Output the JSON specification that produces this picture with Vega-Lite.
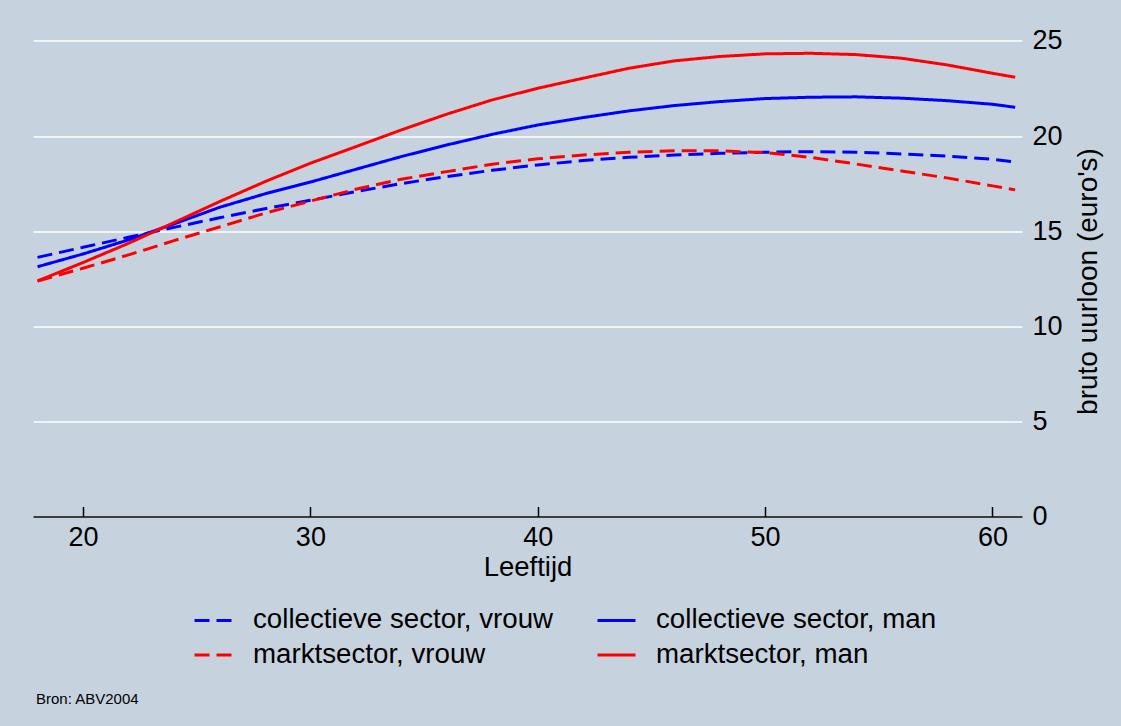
{
  "$schema": "https://vega.github.io/schema/vega-lite/v6.json",
  "width": 989,
  "height": 487,
  "autosize": {"type": "none"},
  "padding": {"left": 33, "top": 29.5, "right": 99, "bottom": 209.5},
  "background": "#c6d3df",
  "config": {
    "view": {"stroke": null},
    "font": "Liberation Sans",
    "legend": {
      "orient": "none",
      "direction": "horizontal",
      "legendX": 160,
      "legendY": 570,
      "columns": 2,
      "columnPadding": 37,
      "rowPadding": 0,
      "padding": 0,
      "labelFontSize": 27.7,
      "labelColor": "#000000",
      "labelOffset": 19,
      "labelLimit": 0,
      "symbolType": "stroke",
      "symbolSize": 1444,
      "symbolStrokeWidth": 3,
      "title": null
    }
  },
  "title": {
    "text": "Bron: ABV2004",
    "orient": "bottom",
    "anchor": "start",
    "frame": "group",
    "fontSize": 15,
    "fontWeight": "normal",
    "color": "#000000",
    "font": "Liberation Sans",
    "offset": 22,
    "dx": 3
  },
  "data": {
    "values": [
      {"s": "collectieve sector, vrouw", "age": 18, "v": 13.62},
      {"s": "collectieve sector, vrouw", "age": 20, "v": 14.15},
      {"s": "collectieve sector, vrouw", "age": 22, "v": 14.68},
      {"s": "collectieve sector, vrouw", "age": 24, "v": 15.2},
      {"s": "collectieve sector, vrouw", "age": 26, "v": 15.7},
      {"s": "collectieve sector, vrouw", "age": 28, "v": 16.18},
      {"s": "collectieve sector, vrouw", "age": 30, "v": 16.62},
      {"s": "collectieve sector, vrouw", "age": 32, "v": 17.08},
      {"s": "collectieve sector, vrouw", "age": 34, "v": 17.5},
      {"s": "collectieve sector, vrouw", "age": 36, "v": 17.87},
      {"s": "collectieve sector, vrouw", "age": 38, "v": 18.2},
      {"s": "collectieve sector, vrouw", "age": 40, "v": 18.48},
      {"s": "collectieve sector, vrouw", "age": 42, "v": 18.71},
      {"s": "collectieve sector, vrouw", "age": 44, "v": 18.88},
      {"s": "collectieve sector, vrouw", "age": 46, "v": 19.0},
      {"s": "collectieve sector, vrouw", "age": 48, "v": 19.09},
      {"s": "collectieve sector, vrouw", "age": 50, "v": 19.15},
      {"s": "collectieve sector, vrouw", "age": 52, "v": 19.18},
      {"s": "collectieve sector, vrouw", "age": 54, "v": 19.15},
      {"s": "collectieve sector, vrouw", "age": 56, "v": 19.06},
      {"s": "collectieve sector, vrouw", "age": 58, "v": 18.95},
      {"s": "collectieve sector, vrouw", "age": 60, "v": 18.78},
      {"s": "collectieve sector, vrouw", "age": 61, "v": 18.64},
      {"s": "collectieve sector, man", "age": 18, "v": 13.13},
      {"s": "collectieve sector, man", "age": 20, "v": 13.8},
      {"s": "collectieve sector, man", "age": 22, "v": 14.54},
      {"s": "collectieve sector, man", "age": 24, "v": 15.38},
      {"s": "collectieve sector, man", "age": 26, "v": 16.25},
      {"s": "collectieve sector, man", "age": 28, "v": 16.96},
      {"s": "collectieve sector, man", "age": 30, "v": 17.58},
      {"s": "collectieve sector, man", "age": 32, "v": 18.25},
      {"s": "collectieve sector, man", "age": 34, "v": 18.92},
      {"s": "collectieve sector, man", "age": 36, "v": 19.53},
      {"s": "collectieve sector, man", "age": 38, "v": 20.09},
      {"s": "collectieve sector, man", "age": 40, "v": 20.58},
      {"s": "collectieve sector, man", "age": 42, "v": 20.97},
      {"s": "collectieve sector, man", "age": 44, "v": 21.32},
      {"s": "collectieve sector, man", "age": 46, "v": 21.6},
      {"s": "collectieve sector, man", "age": 48, "v": 21.81},
      {"s": "collectieve sector, man", "age": 50, "v": 21.97},
      {"s": "collectieve sector, man", "age": 52, "v": 22.04},
      {"s": "collectieve sector, man", "age": 54, "v": 22.06},
      {"s": "collectieve sector, man", "age": 56, "v": 21.99},
      {"s": "collectieve sector, man", "age": 58, "v": 21.86},
      {"s": "collectieve sector, man", "age": 60, "v": 21.67},
      {"s": "collectieve sector, man", "age": 61, "v": 21.51},
      {"s": "marktsector, vrouw", "age": 18, "v": 12.38},
      {"s": "marktsector, vrouw", "age": 20, "v": 13.05},
      {"s": "marktsector, vrouw", "age": 22, "v": 13.75},
      {"s": "marktsector, vrouw", "age": 24, "v": 14.5},
      {"s": "marktsector, vrouw", "age": 26, "v": 15.22},
      {"s": "marktsector, vrouw", "age": 28, "v": 15.94},
      {"s": "marktsector, vrouw", "age": 30, "v": 16.58},
      {"s": "marktsector, vrouw", "age": 32, "v": 17.2},
      {"s": "marktsector, vrouw", "age": 34, "v": 17.73},
      {"s": "marktsector, vrouw", "age": 36, "v": 18.13},
      {"s": "marktsector, vrouw", "age": 38, "v": 18.52},
      {"s": "marktsector, vrouw", "age": 40, "v": 18.8},
      {"s": "marktsector, vrouw", "age": 42, "v": 19.0},
      {"s": "marktsector, vrouw", "age": 44, "v": 19.15},
      {"s": "marktsector, vrouw", "age": 46, "v": 19.22},
      {"s": "marktsector, vrouw", "age": 48, "v": 19.22},
      {"s": "marktsector, vrouw", "age": 50, "v": 19.13},
      {"s": "marktsector, vrouw", "age": 52, "v": 18.88},
      {"s": "marktsector, vrouw", "age": 54, "v": 18.53},
      {"s": "marktsector, vrouw", "age": 56, "v": 18.16},
      {"s": "marktsector, vrouw", "age": 58, "v": 17.8},
      {"s": "marktsector, vrouw", "age": 60, "v": 17.38},
      {"s": "marktsector, vrouw", "age": 61, "v": 17.17},
      {"s": "marktsector, man", "age": 18, "v": 12.38},
      {"s": "marktsector, man", "age": 20, "v": 13.35},
      {"s": "marktsector, man", "age": 22, "v": 14.36},
      {"s": "marktsector, man", "age": 24, "v": 15.45},
      {"s": "marktsector, man", "age": 26, "v": 16.55},
      {"s": "marktsector, man", "age": 28, "v": 17.6},
      {"s": "marktsector, man", "age": 30, "v": 18.57},
      {"s": "marktsector, man", "age": 32, "v": 19.44},
      {"s": "marktsector, man", "age": 34, "v": 20.32},
      {"s": "marktsector, man", "age": 36, "v": 21.15},
      {"s": "marktsector, man", "age": 38, "v": 21.9},
      {"s": "marktsector, man", "age": 40, "v": 22.51},
      {"s": "marktsector, man", "age": 42, "v": 23.04},
      {"s": "marktsector, man", "age": 44, "v": 23.56},
      {"s": "marktsector, man", "age": 46, "v": 23.95},
      {"s": "marktsector, man", "age": 48, "v": 24.18},
      {"s": "marktsector, man", "age": 50, "v": 24.32},
      {"s": "marktsector, man", "age": 52, "v": 24.35},
      {"s": "marktsector, man", "age": 54, "v": 24.28},
      {"s": "marktsector, man", "age": 56, "v": 24.09},
      {"s": "marktsector, man", "age": 58, "v": 23.74},
      {"s": "marktsector, man", "age": 60, "v": 23.3},
      {"s": "marktsector, man", "age": 61, "v": 23.09}
    ]
  },
  "mark": {"type": "line", "strokeWidth": 3},
  "encoding": {
    "x": {
      "field": "age",
      "type": "quantitative",
      "scale": {"domain": [17.8, 61.3], "nice": false, "zero": false},
      "axis": {
        "values": [20, 30, 40, 50, 60],
        "title": "Leeftijd",
        "grid": false,
        "domainColor": "#000000",
        "domainWidth": 1.5,
        "tickColor": "#000000",
        "tickWidth": 1.5,
        "tickSize": -10,
        "labelFontSize": 27,
        "labelColor": "#000000",
        "labelPadding": 18,
        "labelFlush": false,
        "titleFontSize": 27.5,
        "titleFontWeight": "normal",
        "titleColor": "#000000",
        "titlePadding": 3
      }
    },
    "y": {
      "field": "v",
      "type": "quantitative",
      "scale": {"domain": [0, 25.6], "nice": false},
      "axis": {
        "orient": "right",
        "values": [0, 5, 10, 15, 20, 25],
        "grid": true,
        "gridColor": "#ffffff",
        "gridWidth": 1.7,
        "ticks": false,
        "domain": false,
        "labelPadding": 10,
        "labelFontSize": 27,
        "labelColor": "#000000",
        "labelAlign": "left",
        "labelBaseline": "middle",
        "title": "bruto uurloon (euro's)",
        "titleAngle": 270,
        "titleX": 66,
        "titleY": 251.5,
        "titleAlign": "center",
        "titleBaseline": "middle",
        "titleFontSize": 28,
        "titleFontWeight": "normal",
        "titleColor": "#000000"
      }
    },
    "color": {
      "field": "s",
      "type": "nominal",
      "scale": {
        "domain": ["collectieve sector, vrouw", "collectieve sector, man", "marktsector, vrouw", "marktsector, man"],
        "range": ["#0000ff", "#0000ff", "#ff0000", "#ff0000"]
      },
      "legend": {"title": null}
    },
    "strokeDash": {
      "field": "s",
      "type": "nominal",
      "scale": {
        "domain": ["collectieve sector, vrouw", "collectieve sector, man", "marktsector, vrouw", "marktsector, man"],
        "range": [[15, 7], [1, 0], [15, 7], [1, 0]]
      },
      "legend": {"title": null}
    }
  }
}
